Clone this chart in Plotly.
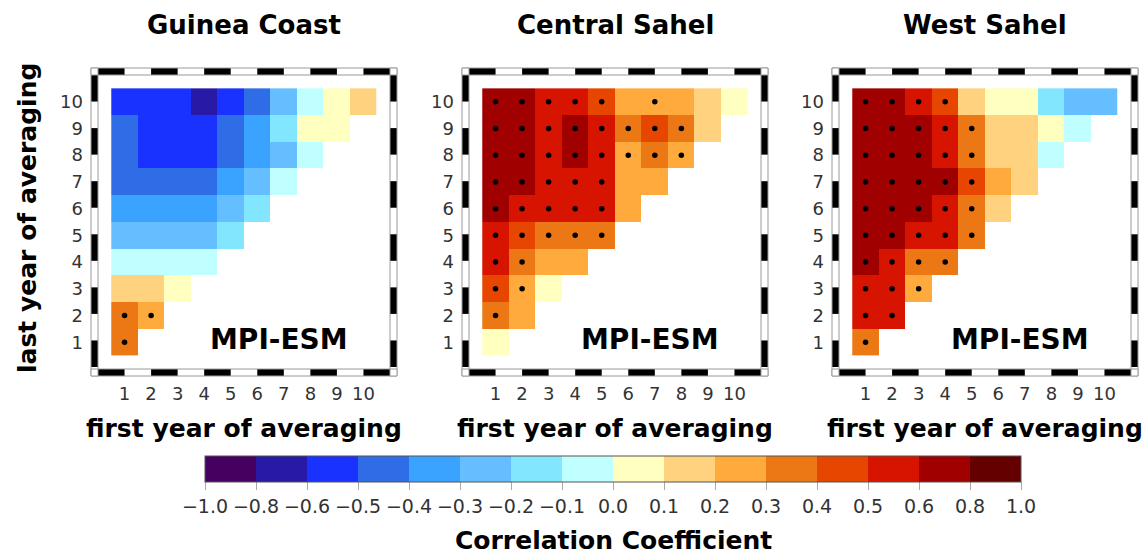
import numpy as np
import plotly.graph_objects as go

# ---------------------------------------------------------------------------
# Data: correlation for averaging windows; each row is a last year (1..10),
# each entry a first year (1..last year).
# ---------------------------------------------------------------------------
years = list(range(1, 11))
year_labels = [str(y) for y in years]

regions = ["Guinea Coast", "Central Sahel", "West Sahel"]

guinea_coast = [
    [0.38],
    [0.36, 0.27],
    [0.14, 0.12, 0.04],
    [-0.07, -0.06, -0.05, -0.04],
    [-0.27, -0.26, -0.25, -0.24, -0.18],
    [-0.36, -0.35, -0.34, -0.33, -0.27, -0.17],
    [-0.45, -0.44, -0.43, -0.42, -0.36, -0.26, -0.08],
    [-0.44, -0.53, -0.55, -0.52, -0.42, -0.33, -0.24, -0.06],
    [-0.46, -0.55, -0.56, -0.54, -0.43, -0.35, -0.16, 0.04, 0.03],
    [-0.55, -0.57, -0.53, -0.62, -0.52, -0.45, -0.27, -0.05, 0.06, 0.14],
]

central_sahel = [
    [0.06],
    [0.38, 0.24],
    [0.47, 0.28, 0.05],
    [0.55, 0.36, 0.26, 0.25],
    [0.58, 0.46, 0.37, 0.36, 0.35],
    [0.67, 0.58, 0.57, 0.55, 0.53, 0.24],
    [0.72, 0.66, 0.58, 0.56, 0.54, 0.25, 0.23],
    [0.71, 0.68, 0.57, 0.63, 0.55, 0.27, 0.36, 0.26],
    [0.70, 0.69, 0.58, 0.62, 0.56, 0.35, 0.44, 0.34, 0.14],
    [0.68, 0.66, 0.57, 0.55, 0.45, 0.26, 0.27, 0.24, 0.15, 0.05],
]

west_sahel = [
    [0.36],
    [0.56, 0.54],
    [0.58, 0.55, 0.26],
    [0.67, 0.56, 0.37, 0.35],
    [0.70, 0.66, 0.57, 0.55, 0.34],
    [0.72, 0.70, 0.65, 0.56, 0.35, 0.14],
    [0.75, 0.73, 0.68, 0.64, 0.45, 0.26, 0.14],
    [0.73, 0.72, 0.67, 0.55, 0.35, 0.15, 0.13, -0.06],
    [0.74, 0.71, 0.66, 0.56, 0.36, 0.16, 0.14, 0.05, -0.05],
    [0.72, 0.70, 0.57, 0.46, 0.15, 0.06, 0.04, -0.15, -0.25, -0.26],
]

# first years with a significant correlation, per last year (1..10)
guinea_coast_sig = [[1], [1, 2], [], [], [], [], [], [], [], []]
central_sahel_sig = [[], [1], [1, 2], [1, 2], [1, 2, 3, 4, 5], [1, 2, 3, 4, 5],
                     [1, 2, 3, 4, 5], [1, 2, 3, 4, 5, 6, 7, 8],
                     [1, 2, 3, 4, 5, 6, 7, 8], [1, 2, 3, 4, 5, 7]]
west_sahel_sig = [[1], [1, 2], [1, 2, 3], [1, 2, 3, 4], [1, 2, 3, 4, 5],
                  [1, 2, 3, 4, 5], [1, 2, 3, 4, 5], [1, 2, 3, 4, 5],
                  [1, 2, 3, 4, 5], [1, 2, 3, 4]]

model_name = "MPI-ESM"

# colour levels
level_edges = [-1.0, -0.8, -0.6, -0.5, -0.4, -0.3, -0.2, -0.1, 0.0,
               0.1, 0.2, 0.3, 0.4, 0.5, 0.6, 0.8, 1.0]
level_colors = ["#46005f", "#2819a6", "#1a32ff", "#2e6de6", "#3aa2ff",
                "#64beff", "#82e6ff", "#c0ffff", "#ffffc0", "#ffd280",
                "#ffaa3c", "#eb7814", "#e64600", "#d71400", "#a00000",
                "#640000"]

# ---------------------------------------------------------------------------
# Layout geometry (pixels)
# ---------------------------------------------------------------------------
W, H = 1147, 557
panel_left = [98, 469, 839]
panel_w = 292
panel_top, panel_bottom = 75, 369
band = 7
FONT = "DejaVu Sans"


def px_x(p):
    return p / W


def px_y(p):
    return 1 - p / H


n_levels = len(level_colors)
colorscale = []
for i, c in enumerate(level_colors):
    colorscale.append([i / n_levels, c])
    colorscale.append([(i + 1) / n_levels, c])


def level_index(v):
    return int(np.clip(np.digitize(v, level_edges) - 1, 0, n_levels - 1)) + 0.5


fig = go.Figure()

datasets = [guinea_coast, central_sahel, west_sahel]
sigsets = [guinea_coast_sig, central_sahel_sig, west_sahel_sig]

for k, (rows, sig) in enumerate(zip(datasets, sigsets)):
    z = [[None] * len(years) for _ in years]
    for li, row in enumerate(rows):
        for fi, v in enumerate(row):
            z[li][fi] = level_index(v)
    suffix = "" if k == 0 else str(k + 1)
    fig.add_trace(go.Heatmap(
        x=years, y=years, z=z, coloraxis="coloraxis",
        xaxis="x" + suffix, yaxis="y" + suffix, hoverinfo="skip",
    ))
    sx, sy = [], []
    for li, firsts in enumerate(sig):
        for f in firsts:
            sx.append(f)
            sy.append(years[li])
    fig.add_trace(go.Scatter(
        x=sx, y=sy, mode="markers", xaxis="x" + suffix, yaxis="y" + suffix,
        marker=dict(color="black", size=5.5), showlegend=False,
        hoverinfo="skip",
    ))

axis_common = dict(range=[0, 11], tickvals=years, ticktext=year_labels,
                   showgrid=False, zeroline=False, showline=False, ticks="",
                   tickfont=dict(family=FONT, size=18, color="#333"),
                   fixedrange=True)

layout_axes = {}
for k in range(3):
    suffix = "" if k == 0 else str(k + 1)
    xdom = [px_x(panel_left[k]), px_x(panel_left[k] + panel_w)]
    ydom = [px_y(panel_bottom), px_y(panel_top)]
    layout_axes["xaxis" + suffix] = dict(axis_common, domain=xdom,
                                         anchor="y" + suffix,
                                         ticklabelstandoff=12)
    layout_axes["yaxis" + suffix] = dict(axis_common, domain=ydom,
                                         anchor="x" + suffix,
                                         ticklabelstandoff=14)

# Checkered frame around every panel
shapes = []
unit = panel_w / 11
grey = "#9a9a9a"
for k in range(3):
    x0 = panel_left[k]
    x1 = x0 + panel_w
    y0, y1 = panel_top, panel_bottom
    for s in range(0, 11, 2):
        a, b = x0 + s * unit, x0 + (s + 1) * unit
        for (ya, yb) in [(y0 - band, y0), (y1, y1 + band)]:
            shapes.append(dict(type="rect", xref="paper", yref="paper",
                               x0=px_x(a), x1=px_x(b), y0=px_y(yb), y1=px_y(ya),
                               fillcolor="black", line=dict(width=0)))
        a, b = y0 + s * unit, y0 + (s + 1) * unit
        for (xa, xb) in [(x0 - band, x0), (x1, x1 + band)]:
            shapes.append(dict(type="rect", xref="paper", yref="paper",
                               x0=px_x(xa), x1=px_x(xb), y0=px_y(b), y1=px_y(a),
                               fillcolor="black", line=dict(width=0)))
    for (xa, ya, xb, yb) in [(x0 - band, y0 - band, x1 + band, y1 + band),
                             (x0, y0, x1, y1)]:
        shapes.append(dict(type="rect", xref="paper", yref="paper",
                           x0=px_x(xa), x1=px_x(xb), y0=px_y(yb), y1=px_y(ya),
                           line=dict(color=grey, width=1)))
    for (cx, cy) in [(x0 - band, y0 - band), (x1, y0 - band),
                     (x0 - band, y1), (x1, y1)]:
        shapes.append(dict(type="rect", xref="paper", yref="paper",
                           x0=px_x(cx), x1=px_x(cx + band),
                           y0=px_y(cy + band), y1=px_y(cy),
                           fillcolor="white", line=dict(color=grey, width=1)))

# Colour bar geometry and box separators
cb_left, cb_len, cb_top, cb_thick = 205, 816, 456, 26
for i in range(1, n_levels):
    xp = cb_left + cb_len * i / n_levels
    shapes.append(dict(type="line", xref="paper", yref="paper",
                       x0=px_x(xp), x1=px_x(xp), y0=px_y(cb_top + cb_thick),
                       y1=px_y(cb_top), line=dict(color="#555", width=1)))


def fmt(v):
    s = f"{abs(v):.1f}"
    return ("\u2212" + s) if v < 0 else s


cb_labels = [fmt(v) for v in level_edges]

annotations = []
for k, name in enumerate(regions):
    suffix = "" if k == 0 else str(k + 1)
    cx = px_x(panel_left[k] + panel_w / 2)
    annotations.append(dict(text=name, x=cx, y=px_y(25), xref="paper",
                            yref="paper", showarrow=False, xanchor="center",
                            yanchor="middle",
                            font=dict(family=FONT, size=26, color="black",
                                      weight="bold")))
    annotations.append(dict(text="first year of averaging", x=cx, y=px_y(428),
                            xref="paper", yref="paper", showarrow=False,
                            xanchor="center", yanchor="middle",
                            font=dict(family=FONT, size=25, color="black",
                                      weight="bold")))
    annotations.append(dict(text=model_name, x=6.82, y=1.09, xref="x" + suffix,
                            yref="y" + suffix, showarrow=False,
                            xanchor="center", yanchor="middle",
                            font=dict(family=FONT, size=28, color="black",
                                      weight="bold")))

annotations.append(dict(text="last year of averaging", x=px_x(28),
                        y=px_y(218), xref="paper", yref="paper",
                        showarrow=False, textangle=-90, xanchor="center",
                        yanchor="middle",
                        font=dict(family=FONT, size=25, color="black",
                                  weight="bold")))
annotations.append(dict(text="Correlation Coefficient",
                        x=px_x(cb_left + cb_len / 2), y=px_y(540),
                        xref="paper", yref="paper", showarrow=False,
                        xanchor="center", yanchor="middle",
                        font=dict(family=FONT, size=25, color="black",
                                  weight="bold")))

fig.update_layout(
    width=W, height=H,
    margin=dict(l=0, r=0, t=0, b=0),
    paper_bgcolor="white", plot_bgcolor="white",
    showlegend=False,
    shapes=shapes,
    annotations=annotations,
    coloraxis=dict(
        colorscale=colorscale, cmin=0, cmax=n_levels,
        colorbar=dict(
            orientation="h", x=px_x(cb_left), xanchor="left",
            y=px_y(cb_top), yanchor="top",
            lenmode="pixels", len=cb_len,
            thicknessmode="pixels", thickness=cb_thick,
            xpad=0, ypad=0,
            outlinewidth=1, outlinecolor="#555",
            tickmode="array", tickvals=list(range(n_levels + 1)),
            ticktext=cb_labels, ticks="outside", ticklen=8,
            tickcolor="#aaa",
            tickfont=dict(family=FONT, size=19, color="#333"),
        ),
    ),
    **layout_axes,
)

fig.write_html("out.html")
